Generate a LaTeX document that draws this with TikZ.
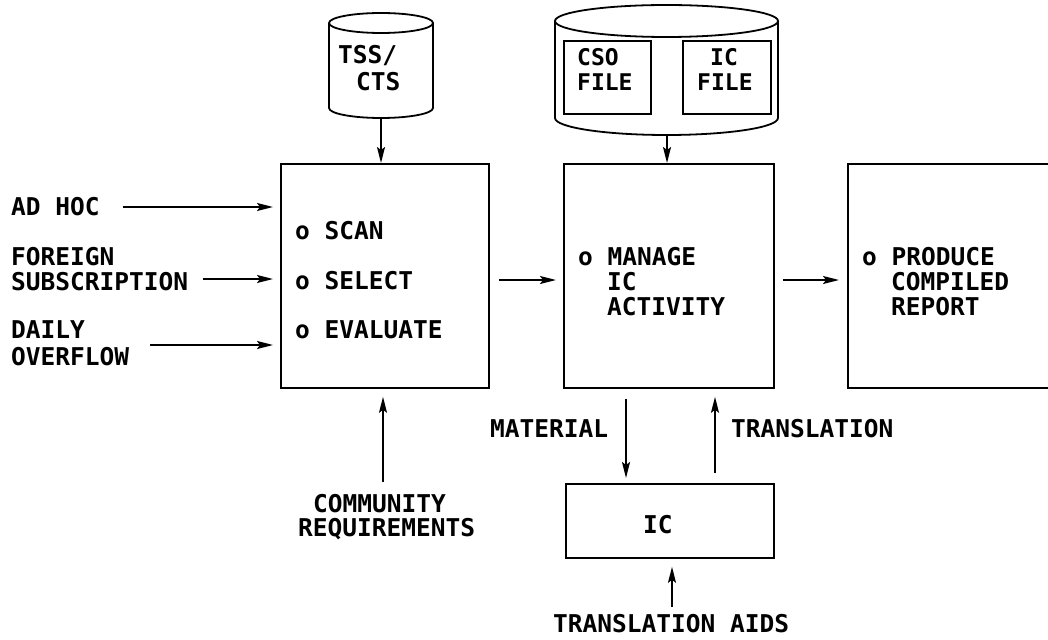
\documentclass[tikz,border=0pt]{standalone}
\usepackage{fontspec}
\setmonofont{DejaVu Sans Mono}
\usetikzlibrary{arrows.meta}
\tikzset{
  lbl/.style={font=\ttfamily\bfseries\fontsize{24.5}{25}\selectfont, inner sep=0pt, anchor=base west},
  small/.style={font=\ttfamily\bfseries\fontsize{23}{23}\selectfont, inner sep=0pt, anchor=base west},
  box/.style={draw, line width=1.8pt, rectangle, inner sep=0pt, anchor=north west},
  flow/.style={line width=1.8pt, -{Stealth[length=16pt,width=8pt,inset=3pt]}},
  cyl/.style={line width=1.8pt},
}
\begin{document}
\begin{tikzpicture}[x=1pt,y=-1pt]
\useasboundingbox (0,0) rectangle (1048,639);
\clip (0,0) rectangle (1048,639);

% main boxes
\node[box, minimum width=208pt, minimum height=224pt] (scan) at (280,163) {};
\node[box, minimum width=210pt, minimum height=224pt] (mng) at (563,163) {};
\node[box, minimum width=240pt, minimum height=224pt] (rep) at (847,163) {};
\node[box, minimum width=208pt, minimum height=74pt] (ic) at (565,483) {};

% cylinder TSS/CTS
\draw[cyl] (381,23) ellipse [x radius=52pt, y radius=10pt];
\draw[cyl] (329,23) -- (329,108) arc[start angle=180, end angle=360, x radius=52pt, y radius=10pt] -- (433,23);
\node[lbl] (tss1) at (338,64) {TSS/};
\node[lbl] (tss2) at (356,91) {CTS};
\coordinate (tssbot) at (381,118);

% cylinder CSO / IC files
\draw[cyl] (666.5,21) ellipse [x radius=111.5pt, y radius=16pt];
\draw[cyl] (555,21) -- (555,118) arc[start angle=180, end angle=360, x radius=111.5pt, y radius=17pt] -- (778,21);
\node[box, minimum width=87pt, minimum height=73pt] (cso) at (563,40) {};
\node[box, minimum width=88pt, minimum height=73pt] (icf) at (682,40) {};
\node[small] (cso1) at (577,66) {CSO};
\node[small] (cso2) at (577,91) {FILE};
\node[small] (icf1) at (710,66) {IC};
\node[small] (icf2) at (697,91) {FILE};
\coordinate (cylbot) at (667,135);

% left inputs
\node[lbl] (adhoc) at (11,215) {AD HOC};
\node[lbl] (for1) at (11,265) {FOREIGN};
\node[lbl] (for2) at (11,290) {SUBSCRIPTION};
\node[lbl] (dai1) at (11,338) {DAILY};
\node[lbl] (dai2) at (11,365) {OVERFLOW};
\coordinate (a1) at (123,207);
\coordinate (a2) at (203,279);
\coordinate (a3) at (150,345);

% box texts
\node[lbl] (t1) at (295,239) {o SCAN};
\node[lbl] (t2) at (295,289) {o SELECT};
\node[lbl] (t3) at (295,338) {o EVALUATE};
\node[lbl] (m1) at (578,265) {o MANAGE};
\node[lbl] (m2) at (607,290) {IC};
\node[lbl] (m3) at (607,315) {ACTIVITY};
\node[lbl] (p1) at (862,265) {o PRODUCE};
\node[lbl] (p2) at (891,290) {COMPILED};
\node[lbl] (p3) at (891,315) {REPORT};
\node[lbl] (ict) at (643,533) {IC};

% bottom labels
\node[lbl] (mat) at (490,437) {MATERIAL};
\node[lbl] (tra) at (731,437) {TRANSLATION};
\node[lbl] (com1) at (313,512) {COMMUNITY};
\node[lbl] (com2) at (298,536) {REQUIREMENTS};
\node[lbl] (aids) at (553,632) {TRANSLATION AIDS};

\coordinate (row) at (0,280);
\coordinate (cr) at (383,482);
\coordinate (ta) at (672,607);
\coordinate (mx) at (626,0);
\coordinate (tx) at (715,0);

% connectors
\draw[flow] (tssbot) -- (tssbot |- scan.north);
\draw[flow] (cylbot) -- (cylbot |- mng.north);
\draw[flow, shorten >=7pt] (a1) -- (a1 -| scan.west);
\draw[flow, shorten >=7pt] (a2) -- (a2 -| scan.west);
\draw[flow, shorten >=7pt] (a3) -- (a3 -| scan.west);
\draw[flow, shorten <=9pt, shorten >=7pt] (scan.east |- row) -- (mng.west |- row);
\draw[flow, shorten <=8pt, shorten >=8pt] (mng.east |- row) -- (rep.west |- row);
\draw[flow, shorten <=10pt, shorten >=5pt] (mx |- mng.south) -- (mx |- ic.north);
\draw[flow, shorten <=10pt, shorten >=8pt] (tx |- ic.north) -- (tx |- mng.south);
\draw[flow, shorten >=8pt] (cr) -- (cr |- scan.south);
\draw[flow, shorten >=8pt] (ta) -- (ta |- ic.south);
\end{tikzpicture}
\end{document}
